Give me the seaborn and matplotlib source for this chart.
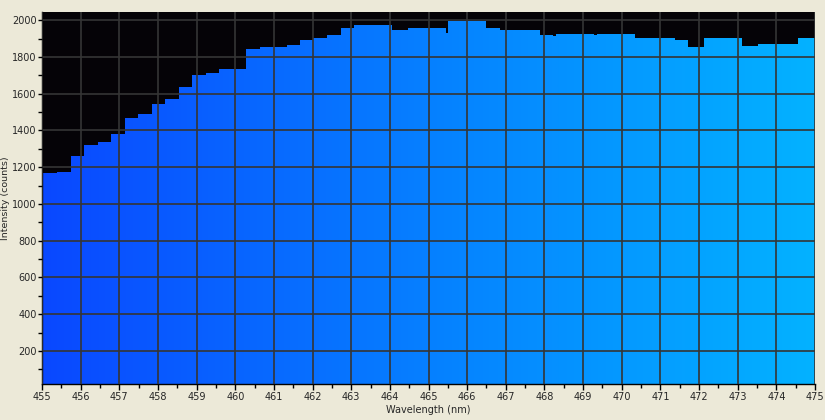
import numpy as np
import matplotlib
matplotlib.use("Agg")
import matplotlib.pyplot as plt
import seaborn as sns
from matplotlib.colors import LinearSegmentedColormap
from matplotlib.ticker import MultipleLocator

# Spectrum samples (bin edges in nm, intensity in counts)
edges = [455.00, 455.39, 455.75, 456.09, 456.45, 456.79, 457.15, 457.48, 457.85, 458.18,
         458.54, 458.88, 459.24, 459.58, 459.92, 460.28, 460.64, 461.00, 461.34, 461.68,
         462.01, 462.37, 462.74, 463.07, 463.41, 463.75, 464.06, 464.47, 464.81, 465.14,
         465.45, 465.50, 465.84, 466.18, 466.49, 466.85, 467.19, 467.55, 467.89, 468.22,
         468.30, 468.61, 468.95, 469.28, 469.36, 469.70, 470.01, 470.35, 470.68, 471.04,
         471.38, 471.71, 472.13, 472.46, 472.77, 473.11, 473.52, 473.86, 474.22, 474.56,
         475.00]
counts = [1169, 1174, 1261, 1321, 1337, 1381, 1468, 1490, 1544, 1572,
          1637, 1702, 1713, 1735, 1735, 1844, 1855, 1855, 1865, 1893,
          1905, 1920, 1958, 1974, 1974, 1974, 1947, 1958, 1958, 1958,
          1931, 1996, 1996, 1996, 1958, 1947, 1947, 1947, 1920, 1915,
          1925, 1925, 1925, 1920, 1925, 1925, 1925, 1904, 1904, 1904,
          1893, 1855, 1904, 1904, 1904, 1860, 1871, 1871, 1871, 1904]

x_min, x_max = 455, 475
y_min, y_max = 20, 2045

sns.set_style("ticks")
plt.rcParams['font.family'] = ['DejaVu Sans']

fig, ax = plt.subplots(figsize=(8.25, 4.2), dpi=100)
fig.patch.set_facecolor('#ECE9D8')
ax.set_position([42 / 825, 1 - 384 / 420, (815 - 42) / 825, (384 - 12) / 420])
ax.set_facecolor('#050307')

edges_arr = np.array(edges)
centers = (edges_arr[:-1] + edges_arr[1:]) / 2
sns.histplot(x=centers, weights=counts, bins=edges, element='step', fill=True,
             alpha=1, linewidth=0, color='#0A60FF', ax=ax)

# horizontal blue gradient clipped to the spectrum shape
poly = ax.collections[0]
poly.set_visible(False)
cmap = LinearSegmentedColormap.from_list('spec', ['#0A48FF', '#0680FF', '#03B2FF'])
grad = np.linspace(0, 1, 512).reshape(1, -1)
im = ax.imshow(grad, extent=[x_min, x_max, y_min, y_max], aspect='auto',
               cmap=cmap, origin='lower', zorder=1, interpolation='bilinear')
im.set_clip_path(poly.get_paths()[0], transform=poly.get_transform())

ax.set_xlim(x_min, x_max)
ax.set_ylim(y_min, y_max)
ax.xaxis.set_major_locator(MultipleLocator(1))
ax.xaxis.set_minor_locator(MultipleLocator(0.5))
ax.yaxis.set_major_locator(MultipleLocator(200))
ax.yaxis.set_minor_locator(MultipleLocator(100))

ax.set_axisbelow(False)
ax.grid(True, which='major', color='#353535', linewidth=1.2)
ax.tick_params(axis='x', which='major', direction='out', length=4, width=1,
               color='black', labelsize=7, pad=2)
ax.tick_params(axis='y', which='major', direction='out', length=3, width=1,
               color='black', labelsize=7, pad=1)
ax.tick_params(which='minor', direction='out', length=3, width=1, color='black')

for side in ['top', 'right']:
    ax.spines[side].set_visible(False)
for side in ['left', 'bottom']:
    ax.spines[side].set_color('black')
    ax.spines[side].set_linewidth(1)

ax.set_xlabel('Wavelength (nm)', fontsize=7, labelpad=2)
ax.set_ylabel('Intensity (counts)', fontsize=6.8)
ax.yaxis.set_label_coords(-0.041, 0.5)

fig.savefig('out.png', dpi=100, facecolor=fig.get_facecolor())
